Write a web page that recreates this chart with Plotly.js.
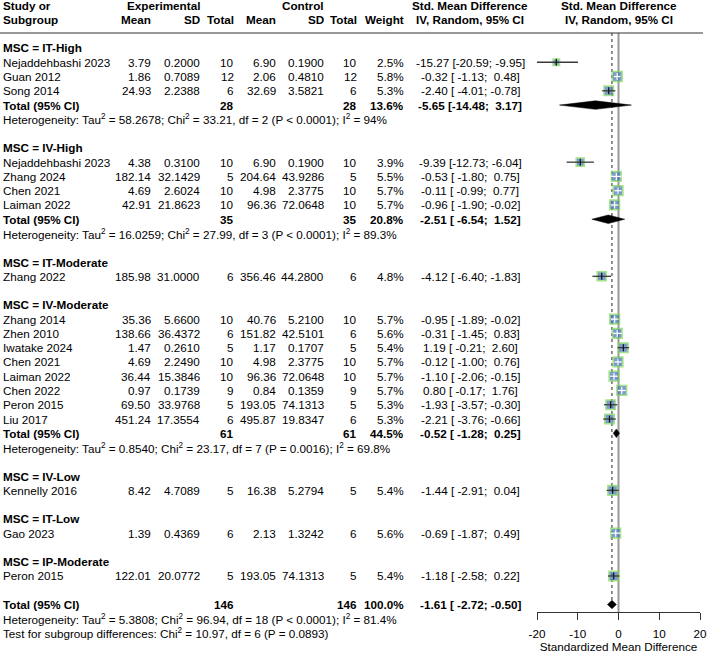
<!DOCTYPE html>
<html><head><meta charset="utf-8">
<script src="https://cdn.plot.ly/plotly-3.0.1.min.js"></script>
<style>html,body{margin:0;padding:0;background:#fff}#chart{width:708px;height:653px}</style>
</head><body><div id="chart"></div>
<script>
// ---------- DATA ----------
const subgroups = ['IT-High','IV-High','IT-Moderate','IV-Moderate','IV-Low','IT-Low','IP-Moderate'];
const sgExpN   = [28, 35, null, 61, null, null, null];
const sgCtrlN  = [28, 35, null, 61, null, null, null];
const sgWeight = [13.6, 20.8, null, 44.5, null, null, null];
const sgSmd    = [-5.65, -2.51, null, -0.52, null, null, null];
const sgLo     = [-14.48, -6.54, null, -1.28, null, null, null];
const sgHi     = [3.17, 1.52, null, 0.25, null, null, null];
const sgTau2   = [58.2678, 16.0259, null, 0.8540, null, null, null];
const sgChi2   = [33.21, 27.99, null, 23.17, null, null, null];
const sgDf     = [2, 3, null, 7, null, null, null];
const sgP      = [0.0001, 0.0001, null, 0.0016, null, null, null];
const sgI2     = [94, 89.3, null, 69.8, null, null, null];

const studyName  = ['Nejaddehbashi 2023','Guan 2012','Song 2014','Nejaddehbashi 2023','Zhang 2024','Chen 2021','Laiman 2022','Zhang 2022','Zhang 2014','Zhen 2010','Iwatake 2024','Chen 2021','Laiman 2022','Chen 2022','Peron 2015','Liu 2017','Kennelly 2016','Gao 2023','Peron 2015'];
const studyGroup = [0,0,0,1,1,1,1,2,3,3,3,3,3,3,3,3,4,5,6];
const expMean  = [3.79,1.86,24.93,4.38,182.14,4.69,42.91,185.98,35.36,138.66,1.47,4.69,36.44,0.97,69.50,451.24,8.42,1.39,122.01];
const expSD    = [0.2000,0.7089,2.2388,0.3100,32.1429,2.6024,21.8623,31.0000,5.6600,36.4372,0.2610,2.2490,15.3846,0.1739,33.9768,17.3554,4.7089,0.4369,20.0772];
const expN     = [10,12,6,10,5,10,10,6,10,6,5,10,10,9,5,6,5,6,5];
const ctrlMean = [6.90,2.06,32.69,6.90,204.64,4.98,96.36,356.46,40.76,151.82,1.17,4.98,96.36,0.84,193.05,495.87,16.38,2.13,193.05];
const ctrlSD   = [0.1900,0.4810,3.5821,0.1900,43.9286,2.3775,72.0648,44.2800,5.2100,42.5101,0.1707,2.3775,72.0648,0.1359,74.1313,19.8347,5.2794,1.3242,74.1313];
const ctrlN    = [10,12,6,10,5,10,10,6,10,6,5,10,10,9,5,6,5,6,5];
const weight   = [2.5,5.8,5.3,3.9,5.5,5.7,5.7,4.8,5.7,5.6,5.4,5.7,5.7,5.7,5.3,5.3,5.4,5.6,5.4];
const smd      = [-15.27,-0.32,-2.40,-9.39,-0.53,-0.11,-0.96,-4.12,-0.95,-0.31,1.19,-0.12,-1.10,0.80,-1.93,-2.21,-1.44,-0.69,-1.18];
const smdLo    = [-20.59,-1.13,-4.01,-12.73,-1.80,-0.99,-1.90,-6.40,-1.89,-1.45,-0.21,-1.00,-2.06,-0.17,-3.57,-3.76,-2.91,-1.87,-2.58];
const smdHi    = [-9.95,0.48,-0.78,-6.04,0.75,0.77,-0.02,-1.83,-0.02,0.83,2.60,0.76,-0.15,1.76,-0.30,-0.66,0.04,0.49,0.22];

const totExpN = 146, totCtrlN = 146, totWeight = 100.0;
const totSmd = -1.61, totLo = -2.72, totHi = -0.50;
const totTau2 = 5.3808, totChi2 = 96.94, totDf = 18, totP = 0.0001, totI2 = 81.4;
const testChi2 = 10.97, testDf = 6, testP = 0.0893;

const tickVals = [-20,-10,0,10,20];
const tickText = ['-20','-10','0','10','20'];

// ---------- LAYOUT CONSTANTS ----------
const W = 708, H = 653;
const FONT = 'Liberation Sans, Arial, sans-serif';
const FS = 11.7;
const rowTop = 48, rowH = 14.27, plotBottom = 612;
const xDomPx = [537, 700];
const pxPerUnit = (xDomPx[1]-xDomPx[0]) / (tickVals[tickVals.length-1]-tickVals[0]);
const col = {name:2, expMean:152, expSD:201, expN:235, ctrlMean:277, ctrlSD:325, ctrlN:358, weight:405, ci:470, plot:619};

const rowPx = r => rowTop + r * rowH;
const ann = [];
function txt(px, row, text, anchor, bold) {
  ann.push({xref:'paper', yref:'paper', x: px/W, y: 1 - rowPx(row)/plotBottom,
    text: bold ? '<b>'+text+'</b>' : text,
    xanchor: anchor || 'right', yanchor:'middle', showarrow:false,
    font:{family:FONT, size:FS, color:'#000'}, borderpad:0});
}
const NB = '\u00a0';
function pad(s, n){ while (s.length < n) s = NB + s; return s; }
function ciStr(e, l, h){ return e.toFixed(2) + ' [' + pad(l.toFixed(2),6) + ';' + pad(h.toFixed(2),6) + ']'; }
function pStr(p){ return p <= 0.0001 ? '&lt; 0.0001' : '= ' + p.toFixed(4); }
function hetStr(t, c, d, p, i){
  return 'Heterogeneity: Tau<sup>2</sup> = ' + t.toFixed(4) + '; Chi<sup>2</sup> = ' + c.toFixed(2) +
    ', df = ' + d + ' (P ' + pStr(p) + '); I<sup>2</sup> = ' + i + '%';
}

// headers
txt(col.name, -3, 'Study or', 'left', true);
txt(col.name, -2, 'Subgroup', 'left', true);
txt(col.expSD, -3, 'Experimental', 'right', true);
txt(col.ctrlSD, -3, 'Control', 'right', true);
[['expMean','Mean'],['expSD','SD'],['expN','Total'],['ctrlMean','Mean'],['ctrlSD','SD'],['ctrlN','Total'],['weight','Weight']]
  .forEach(([k,t]) => txt(col[k], -2, t, 'right', true));
txt(col.ci, -3, 'Std. Mean Difference', 'center', true);
txt(col.ci, -2, 'IV, Random, 95% CI', 'center', true);
txt(col.plot, -3, 'Std. Mean Difference', 'center', true);
txt(col.plot, -2, 'IV, Random, 95% CI', 'center', true);

// rows
const stRow = [];
const dia = {x:[], y:[]};
const diaH = 0.3;
function addDiamond(e, l, h, r){
  dia.x.push(l, e, h, e, l, null);
  dia.y.push(r, r-diaH, r, r+diaH, r, null);
}
let row = 0;
subgroups.forEach((g, gi) => {
  txt(col.name, row, 'MSC = ' + g, 'left', true);
  row++;
  studyName.forEach((n, i) => {
    if (studyGroup[i] !== gi) return;
    stRow[i] = row;
    txt(col.name, row, n, 'left');
    txt(col.expMean, row, expMean[i].toFixed(2));
    txt(col.expSD, row, expSD[i].toFixed(4));
    txt(col.expN, row, String(expN[i]));
    txt(col.ctrlMean, row, ctrlMean[i].toFixed(2));
    txt(col.ctrlSD, row, ctrlSD[i].toFixed(4));
    txt(col.ctrlN, row, String(ctrlN[i]));
    txt(col.weight, row, weight[i].toFixed(1) + '%');
    txt(col.ci, row, ciStr(smd[i], smdLo[i], smdHi[i]), 'center');
    row++;
  });
  if (sgExpN[gi] !== null) {
    txt(col.name, row, 'Total (95% CI)', 'left', true);
    txt(col.expN, row, String(sgExpN[gi]), 'right', true);
    txt(col.ctrlN, row, String(sgCtrlN[gi]), 'right', true);
    txt(col.weight, row, sgWeight[gi].toFixed(1) + '%', 'right', true);
    txt(col.ci, row, ciStr(sgSmd[gi], sgLo[gi], sgHi[gi]), 'center', true);
    addDiamond(sgSmd[gi], sgLo[gi], sgHi[gi], row);
    row++;
    txt(col.name, row, hetStr(sgTau2[gi], sgChi2[gi], sgDf[gi], sgP[gi], sgI2[gi]), 'left');
    row++;
  }
  row++; // blank line
});
const totRow = row;
txt(col.name, row, 'Total (95% CI)', 'left', true);
txt(col.expN, row, String(totExpN), 'right', true);
txt(col.ctrlN, row, String(totCtrlN), 'right', true);
txt(col.weight, row, totWeight.toFixed(1) + '%', 'right', true);
txt(col.ci, row, ciStr(totSmd, totLo, totHi), 'center', true);
addDiamond(totSmd, totLo, totHi, row);
row++;
txt(col.name, row, hetStr(totTau2, totChi2, totDf, totP, totI2), 'left');
row++;
txt(col.name, row, 'Test for subgroup differences: Chi<sup>2</sup> = ' + testChi2.toFixed(2) + ', df = ' + testDf + ' (P = ' + testP.toFixed(4) + ')', 'left');

// ---------- TRACES ----------
const boxK = 4.1, boxLine = 1.5;
const boxSize = weight.map(w => boxK * Math.sqrt(w));
const inside = smd.map((e, i) => (smdHi[i]-smdLo[i]) * pxPerUnit < boxSize[i] + boxLine);

const ciDark = {x:[], y:[]}, ciLight = {x:[], y:[]};
smd.forEach((e, i) => {
  const t = inside[i] ? ciLight : ciDark;
  t.x.push(smdLo[i], smdHi[i], null);
  t.y.push(stRow[i], stRow[i], null);
});

const traces = [
  {type:'scatter', mode:'markers', x: smd, y: stRow, hoverinfo:'skip', cliponaxis:false,
   marker:{symbol:'square', size: boxSize, color:'#4674B6', line:{color:'#7ED957', width: boxLine}}},
  {type:'scatter', mode:'lines', x: ciDark.x, y: ciDark.y, hoverinfo:'skip',
   line:{color:'#3a3a3a', width:1.3}},
  {type:'scatter', mode:'lines', x: ciLight.x, y: ciLight.y, hoverinfo:'skip',
   line:{color:'#ffffff', width:1.3}},
  {type:'scatter', mode:'markers', x: smd, y: stRow, hoverinfo:'skip',
   marker:{symbol:'line-ns', size:5, line:{color: inside.map(v => v ? '#ffffff' : '#111111'), width:1.2}}},
  {type:'scatter', mode:'lines', x: dia.x, y: dia.y, fill:'toself', fillcolor:'#000',
   line:{color:'#000', width:0.5}, hoverinfo:'skip'}
];

const yTop = (0 - rowTop) / rowH;
const yBot = (plotBottom - rowTop) / rowH;
const headerLineRow = (33 - rowTop) / rowH;

const layout = {
  width: W, height: H,
  margin:{l:0, r:0, t:0, b:H - plotBottom, pad:0},
  paper_bgcolor:'#fff', plot_bgcolor:'#fff',
  showlegend:false,
  font:{family:FONT, size:FS, color:'#000'},
  xaxis:{domain:[xDomPx[0]/W, xDomPx[1]/W], range:[tickVals[0], tickVals[tickVals.length-1]],
    tickmode:'array', tickvals: tickVals, ticktext: tickText,
    showgrid:false, zeroline:false, showline:true, linecolor:'#333', linewidth:1,
    ticks:'outside', ticklen:7, tickwidth:1, tickcolor:'#333', ticklabelstandoff:4,
    tickfont:{family:FONT, size:FS, color:'#000'},
    title:{text:'Standardized Mean Difference', font:{family:FONT, size:FS, color:'#000'}, standoff:3}},
  yaxis:{range:[yBot, yTop], visible:false, showgrid:false, zeroline:false},
  shapes:[
    {type:'line', xref:'paper', yref:'y', x0:0, x1:703/W, y0:headerLineRow, y1:headerLineRow,
     line:{color:'#333', width:1}},
    {type:'line', xref:'x', yref:'y', x0:0, x1:0, y0:headerLineRow, y1:yBot, layer:'below',
     line:{color:'#999', width:2}},
    {type:'line', xref:'x', yref:'y', x0:totSmd, x1:totSmd, y0:headerLineRow, y1:totRow, layer:'below',
     line:{color:'#222', width:1, dash:'dot'}}
  ],
  annotations: ann
};

Plotly.newPlot('chart', traces, layout, {staticPlot:true, displayModeBar:false});
</script></body></html>
